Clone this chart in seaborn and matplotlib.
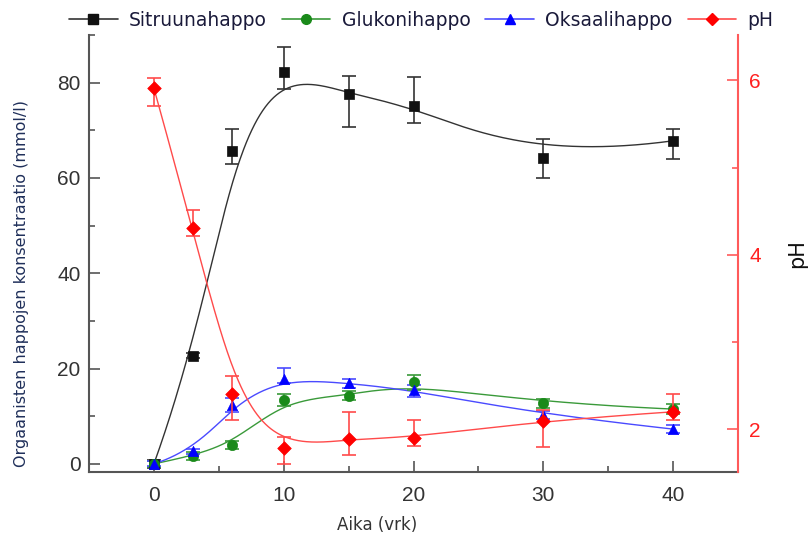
import numpy as np
import pandas as pd
import matplotlib
matplotlib.use('Agg')
import matplotlib.pyplot as plt
from matplotlib.lines import Line2D
from matplotlib.ticker import FixedLocator
import seaborn as sns

# Data
days = [0, 3, 6, 10, 15, 20, 30, 40]

citric = [0.0, 22.7, 65.7, 82.2, 77.6, 75.1, 64.1, 67.8]
citric_lo = [0.8, 0.5, 2.8, 3.6, 6.8, 3.6, 4.2, 3.9]
citric_hi = [0.8, 0.5, 4.5, 5.2, 3.9, 6.0, 4.0, 2.4]

gluconic = [0.0, 1.7, 4.0, 13.4, 14.3, 17.1, 12.7, 11.5]
gluconic_err = [0.6, 0.8, 0.8, 1.2, 1.0, 1.5, 1.0, 1.0]

oxalic = [0.0, 2.6, 12.4, 17.9, 16.9, 15.5, 10.3, 7.3]
oxalic_lo = [0.5, 0.6, 1.5, 1.0, 1.0, 1.5, 0.8, 0.8]
oxalic_hi = [0.5, 0.6, 1.5, 2.3, 1.0, 1.0, 0.8, 0.8]

ph = [5.91, 4.31, 2.40, 1.79, 1.89, 1.90, 2.10, 2.20]
ph_lo = [0.20, 0.10, 0.29, 0.19, 0.19, 0.09, 0.30, 0.09]
ph_hi = [0.12, 0.20, 0.21, 0.12, 0.31, 0.21, 0.12, 0.20]

labels = ['Sitruunahappo', 'Glukonihappo', 'Oksaalihappo', 'pH']
colors = ['#111111', '#1a8a1a', '#0000ff', '#ff0000']
line_colors = ['#333333', '#3a9a3a', '#4a4aff', '#ff4a4a']
markers = ['s', 'o', '^', 'D']


def bspline(xs, ys, num=300):
    # clamped cubic B-spline with the data points as control points (Origin style)
    P = np.column_stack([xs, ys]).astype(float)
    n = len(P)
    k = 3
    knots = np.concatenate([np.zeros(k), np.arange(n - k + 1), np.full(k, n - k)]).astype(float)
    out = []
    for t in np.linspace(0, n - k, num):
        j = min(np.searchsorted(knots, t, side='right') - 1, n - 1)
        d = [P[j - k + i].copy() for i in range(k + 1)]
        for r in range(1, k + 1):
            for i in range(k, r - 1, -1):
                den = knots[i + 1 + j - r] - knots[i + j - k]
                a = 0.0 if den == 0 else (t - knots[i + j - k]) / den
                d[i] = (1 - a) * d[i - 1] + a * d[i]
        out.append(d[k])
    out = np.array(out)
    return pd.DataFrame({'x': out[:, 0], 'y': out[:, 1]})


sns.set_style('ticks')
plt.rcParams['font.family'] = ['DejaVu Sans']

fig, ax = plt.subplots(figsize=(8.1, 5.42), dpi=100)
fig.subplots_adjust(left=0.1099, right=0.9111, bottom=0.1292, top=0.9354)
ax2 = ax.twinx()

left_series = [(citric, [citric_lo, citric_hi]),
               (gluconic, gluconic_err),
               (oxalic, [oxalic_lo, oxalic_hi])]

for i, (vals, err) in enumerate(left_series):
    curve = bspline(days, vals)
    sns.lineplot(data=curve, x='x', y='y', ax=ax, color=line_colors[i], lw=1.0,
                 sort=False, estimator=None, zorder=2)
    ax.errorbar(days, vals, yerr=err, fmt='none', ecolor=line_colors[i],
                elinewidth=1.2, capsize=5, capthick=1.2, zorder=3)
    sns.scatterplot(x=days, y=vals, ax=ax, color=colors[i], marker=markers[i],
                    s=55, edgecolor=colors[i], linewidth=0.5, zorder=4)

curve = bspline(days, ph)
sns.lineplot(data=curve, x='x', y='y', ax=ax2, color=line_colors[3], lw=1.0,
             sort=False, estimator=None, zorder=2)
ax2.errorbar(days, ph, yerr=[ph_lo, ph_hi], fmt='none', ecolor=line_colors[3],
             elinewidth=1.2, capsize=5, capthick=1.2, zorder=3)
sns.scatterplot(x=days, y=ph, ax=ax2, color=colors[3], marker='D', s=48,
                edgecolor=colors[3], linewidth=0.5, zorder=4)

# axes ranges and ticks
ax.set_xlim(-5, 45)
ax.set_ylim(-1.7, 90)
ax2.set_ylim(1.51, 6.52)
ax.set_xticks([0, 10, 20, 30, 40])
ax.xaxis.set_minor_locator(FixedLocator([5, 15, 25, 35]))
ax.set_yticks([0, 20, 40, 60, 80])
ax.yaxis.set_minor_locator(FixedLocator([10, 30, 50, 70, 90]))
ax2.set_yticks([2, 4, 6])
ax2.yaxis.set_minor_locator(FixedLocator([3, 5]))

gray = '#555555'
pink = '#ff5a5a'
ax.tick_params(axis='both', which='major', direction='in', length=8, width=1.2,
               colors=gray, labelsize=15, labelcolor='#333333')
ax.tick_params(axis='x', which='major', pad=10)
ax.tick_params(axis='y', which='major', pad=6)
ax.tick_params(axis='both', which='minor', direction='in', length=4.5, width=1.2, colors=gray)
ax2.tick_params(axis='y', which='major', direction='in', length=8, width=1.2,
                colors=pink, labelsize=15, labelcolor='#ff2020', pad=8)
ax2.tick_params(axis='y', which='minor', direction='in', length=4.5, width=1.2, colors=pink)
for lbl in ax.get_xticklabels() + ax.get_yticklabels() + ax2.get_yticklabels():
    lbl.set_family('Liberation Sans')

for a in (ax, ax2):
    a.spines['top'].set_visible(False)
ax.spines['left'].set_color(gray)
ax.spines['bottom'].set_color(gray)
ax.spines['left'].set_linewidth(1.5)
ax.spines['bottom'].set_linewidth(1.5)
ax.spines['right'].set_visible(False)
ax2.spines['left'].set_visible(False)
ax2.spines['bottom'].set_visible(False)
ax2.spines['right'].set_color(pink)
ax2.spines['right'].set_linewidth(1.5)

ax.set_xlabel('Aika (vrk)', fontsize=12, color='#333333')
ax.xaxis.set_label_coords(0.444, -0.10)
ax.set_ylabel('Orgaanisten happojen konsentraatio (mmol/l)', fontsize=11.5,
              color='#1f2f5a')
ax.yaxis.set_label_coords(-0.092, 0.432)
ax2.set_ylabel('pH', fontsize=15, color='#111111', rotation=90)
ax2.yaxis.set_label_coords(1.076, 0.50)

handles = [Line2D([], [], color=line_colors[i], lw=1.2, marker=markers[i],
                  markerfacecolor=colors[i], markeredgecolor=colors[i],
                  markersize=7 if markers[i] != 'D' else 6)
           for i in range(4)]
fig.legend(handles, labels, loc='center left', bbox_to_anchor=(0.085, 0.963),
           ncol=4, frameon=False, fontsize=13.5, handlelength=2.6,
           handletextpad=0.6, columnspacing=0.8, labelcolor='#1a1a3a',
           borderaxespad=0, borderpad=0)

fig.savefig('out.png', dpi=100)
